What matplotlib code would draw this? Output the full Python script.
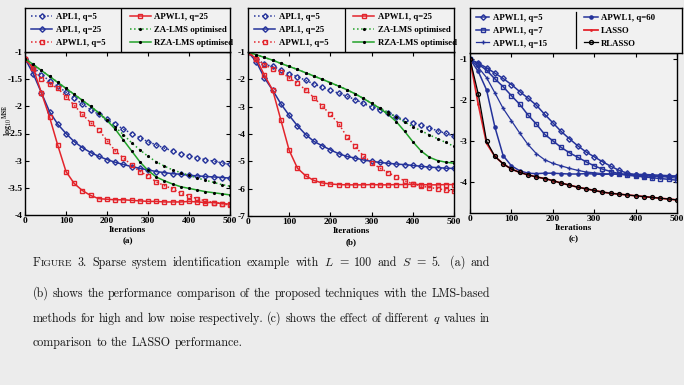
import matplotlib
matplotlib.use("Agg")
import matplotlib.pyplot as plt

plt.rcParams["font.family"] = ["Liberation Serif", "DejaVu Serif"]
plt.rcParams["mathtext.fontset"] = "cm"
plt.rcParams["axes.unicode_minus"] = False

iters = list(range(0, 501, 20))

# panel (a) - high noise
a_apl1_q5 = [-1.12, -1.27, -1.42, -1.53, -1.63, -1.74, -1.85, -1.96, -2.06, -2.15, -2.24, -2.33, -2.42,
             -2.50, -2.58, -2.65, -2.71, -2.77, -2.82, -2.87, -2.91, -2.95, -2.98, -3.01, -3.04, -3.07]
a_apl1_q25 = [-1.12, -1.40, -1.75, -2.10, -2.33, -2.50, -2.65, -2.76, -2.85, -2.92, -2.98, -3.03, -3.07,
              -3.11, -3.14, -3.17, -3.20, -3.22, -3.24, -3.25, -3.27, -3.28, -3.29, -3.30, -3.31, -3.32]
a_apwl1_q5 = [-1.12, -1.30, -1.50, -1.59, -1.67, -1.82, -1.98, -2.15, -2.30, -2.43, -2.63, -2.82, -2.95,
              -3.08, -3.20, -3.28, -3.39, -3.46, -3.52, -3.60, -3.65, -3.70, -3.74, -3.77, -3.79, -3.82]
a_apwl1_q25 = [-1.12, -1.30, -1.75, -2.20, -2.72, -3.20, -3.42, -3.55, -3.64, -3.70, -3.71, -3.72, -3.72,
               -3.73, -3.74, -3.75, -3.75, -3.76, -3.76, -3.76, -3.75, -3.76, -3.77, -3.77, -3.79, -3.80]
a_za = [-1.12, -1.23, -1.34, -1.45, -1.56, -1.67, -1.78, -1.89, -2.00, -2.12, -2.25, -2.38, -2.52,
        -2.67, -2.80, -2.92, -3.02, -3.10, -3.17, -3.22, -3.27, -3.32, -3.36, -3.40, -3.44, -3.47]
a_rza = [-1.12, -1.23, -1.34, -1.45, -1.56, -1.67, -1.78, -1.89, -2.00, -2.12, -2.26, -2.42, -2.62,
         -2.82, -3.02, -3.18, -3.30, -3.37, -3.43, -3.48, -3.51, -3.54, -3.57, -3.59, -3.61, -3.63]

# panel (b) - low noise
b_apl1_q5 = [-1.00, -1.25, -1.45, -1.53, -1.65, -1.80, -1.90, -2.04, -2.17, -2.29, -2.40, -2.51, -2.62,
             -2.74, -2.88, -3.02, -3.11, -3.24, -3.37, -3.49, -3.59, -3.68, -3.78, -3.88, -3.98, -4.08]
b_apl1_q25 = [-1.00, -1.35, -1.95, -2.40, -2.90, -3.32, -3.70, -4.02, -4.27, -4.43, -4.58, -4.72, -4.82,
              -4.88, -4.95, -5.00, -5.04, -5.07, -5.10, -5.12, -5.15, -5.18, -5.21, -5.23, -5.25, -5.26]
b_apwl1_q5 = [-1.00, -1.25, -1.47, -1.62, -1.73, -1.95, -2.15, -2.38, -2.67, -2.98, -3.28, -3.62, -4.10,
              -4.45, -4.80, -5.05, -5.25, -5.41, -5.57, -5.71, -5.82, -5.90, -5.96, -6.00, -6.05, -6.09]
b_apwl1_q25 = [-1.00, -1.25, -1.85, -2.40, -3.50, -4.60, -5.25, -5.53, -5.70, -5.79, -5.83, -5.85, -5.86,
               -5.86, -5.86, -5.85, -5.86, -5.86, -5.85, -5.85, -5.84, -5.85, -5.86, -5.86, -5.85, -5.85]
b_za = [-1.00, -1.10, -1.20, -1.30, -1.42, -1.53, -1.64, -1.76, -1.88, -2.00, -2.12, -2.25, -2.38,
        -2.53, -2.70, -2.88, -3.05, -3.20, -3.38, -3.56, -3.73, -3.88, -4.03, -4.17, -4.31, -4.45]
b_rza = [-1.00, -1.10, -1.20, -1.30, -1.42, -1.53, -1.64, -1.76, -1.88, -2.00, -2.12, -2.25, -2.38,
         -2.53, -2.70, -2.88, -3.06, -3.28, -3.55, -3.90, -4.28, -4.62, -4.85, -4.97, -5.03, -5.07]

# panel (c) - effect of q
c_q5 = [-1.00, -1.10, -1.21, -1.34, -1.47, -1.62, -1.79, -1.95, -2.12, -2.34, -2.55, -2.76, -2.94,
        -3.11, -3.26, -3.38, -3.50, -3.61, -3.71, -3.78, -3.82, -3.84, -3.85, -3.85, -3.85, -3.85]
c_q7 = [-1.00, -1.12, -1.27, -1.48, -1.67, -1.89, -2.10, -2.36, -2.58, -2.83, -2.99, -3.15, -3.28,
        -3.39, -3.50, -3.60, -3.68, -3.74, -3.79, -3.83, -3.85, -3.87, -3.89, -3.91, -3.93, -3.95]
c_q15 = [-1.00, -1.20, -1.45, -1.82, -2.20, -2.50, -2.80, -3.08, -3.30, -3.45, -3.54, -3.60, -3.66,
         -3.71, -3.75, -3.77, -3.79, -3.80, -3.81, -3.82, -3.83, -3.84, -3.85, -3.86, -3.88, -3.90]
c_q60 = [-1.00, -1.30, -1.75, -2.65, -3.35, -3.60, -3.72, -3.78, -3.79, -3.78, -3.78, -3.79, -3.80,
         -3.80, -3.79, -3.80, -3.81, -3.80, -3.80, -3.80, -3.81, -3.81, -3.82, -3.83, -3.84, -3.86]
c_lasso = [-1.00, -2.10, -3.05, -3.37, -3.55, -3.68, -3.76, -3.82, -3.87, -3.91, -3.96, -4.02, -4.07,
           -4.12, -4.16, -4.20, -4.24, -4.27, -4.29, -4.31, -4.33, -4.35, -4.37, -4.39, -4.41, -4.43]
c_rlasso = [-1.00, -1.85, -3.00, -3.37, -3.55, -3.68, -3.76, -3.82, -3.87, -3.91, -3.96, -4.02, -4.07,
            -4.12, -4.16, -4.20, -4.24, -4.27, -4.29, -4.31, -4.33, -4.35, -4.37, -4.39, -4.41, -4.43]

cap_lines = [
    ["FIGURE", "3.", "Sparse", "system", "identification", "example", "with", "$L$", "=", "100", "and",
     "$S$", "=", "5.", " (a)", "and"],
    ["(b)", "shows", "the", "performance", "comparison", "of", "the", "proposed", "techniques", "with",
     "the", "LMS-based"],
    ["methods", "for", "high", "and", "low", "noise", "respectively.", "(c)", "shows", "the", "effect",
     "of", "different", "$q$", "values", "in"],
    ["comparison", "to", "the", "LASSO", "performance."],
]

blue = "#25339a"
red = "#e3242b"
green = "#22a22a"
bg = "#ececec"
panel_bg = "#f1f1f1"

W, H = 684, 385
fig = plt.figure(figsize=(6.84, 3.85), dpi=100, facecolor=bg)


def box(x0, y0, x1, y1):
    # pixel box (top-left origin) -> figure rect
    return [x0 / W, 1 - y1 / H, (x1 - x0) / W, (y1 - y0) / H]


def style_axes(ax, lab):
    ax.set_facecolor(panel_bg)
    ax.set_xlim(0, 500)
    ax.set_xticks([0, 100, 200, 300, 400, 500])
    ax.tick_params(direction="in", top=True, right=True, length=3, width=0.8,
                   labelsize=6.8, pad=1.5)
    for t in ax.get_xticklabels() + ax.get_yticklabels():
        t.set_fontweight("bold")
    ax.set_xlabel("Iterations\n" + lab, fontsize=6.5, fontweight="bold", labelpad=1, linespacing=1.4)
    for s in ax.spines.values():
        s.set_linewidth(1.0)


def legend_box(rect, col1, col2, split, hl, full_sep=True):
    lax = fig.add_axes(rect)
    lax.set_facecolor(panel_bg)
    lax.set_xticks([])
    lax.set_yticks([])
    lax.set_xlim(0, 1)
    lax.set_ylim(0, 1)
    for s in lax.spines.values():
        s.set_linewidth(1.0)
    if full_sep:
        lax.plot([split, split], [0, 1], color="k", lw=0.9)
    else:
        lax.plot([split, split], [0.12, 0.9], color="k", lw=0.9)
    kw = dict(frameon=False, handlelength=hl, handletextpad=0.4, labelspacing=0.55,
              borderpad=0, borderaxespad=0, prop={"weight": "bold", "size": 6.3})
    l1 = lax.legend(handles=col1, loc="center left", bbox_to_anchor=(0.03, 0.5), **kw)
    lax.add_artist(l1)
    lax.legend(handles=col2, loc="center left", bbox_to_anchor=(split + 0.04, 0.5), **kw)


ms = 3.3
lw = 1.1

# ----- (a)
ax = fig.add_axes(box(25, 52, 230, 215))
h1, = ax.plot(iters, a_apl1_q5, ":", color=blue, lw=lw, marker="D", ms=2.8, mfc="none", mec=blue, label="APL1, q=5")
h2, = ax.plot(iters, a_apl1_q25, "-", color=blue, lw=lw, marker="D", ms=2.8, mfc="none", mec=blue, label="APL1, q=25")
h3, = ax.plot(iters, a_apwl1_q5, ":", color=red, lw=lw, marker="s", ms=ms, mfc="none", mec=red, label="APWL1, q=5")
h4, = ax.plot(iters, a_apwl1_q25, "-", color=red, lw=lw, marker="s", ms=ms, mfc="none", mec=red, label="APWL1, q=25")
h5, = ax.plot(iters, a_za, ":", color=green, lw=lw, marker=".", ms=2.5, mfc="k", mec="k", label="ZA-LMS optimised")
h6, = ax.plot(iters, a_rza, "-", color=green, lw=lw, marker=".", ms=2.5, mfc="k", mec="k", label="RZA-LMS optimised")
ax.set_ylim(-4, -1)
ax.set_yticks([-1, -1.5, -2, -2.5, -3, -3.5, -4])
ax.set_yticklabels(["-1", "-1.5", "-2", "-2.5", "-3", "-3.5", "-4"])
style_axes(ax, "(a)")
fig.text(7.5 / W, 1 - 120 / H, r"$\mathbf{log}_{\mathbf{10}}$$^{\mathbf{MSE}}$", fontsize=5.8,
         rotation=90, ha="center", va="center")
legend_box(box(25, 8, 230, 52), [h1, h2, h3], [h4, h5, h6], 0.47, 2.4)

# ----- (b)
ax = fig.add_axes(box(248, 52, 454, 216))
h1, = ax.plot(iters, b_apl1_q5, ":", color=blue, lw=lw, marker="D", ms=2.8, mfc="none", mec=blue, label="APL1, q=5")
h2, = ax.plot(iters, b_apl1_q25, "-", color=blue, lw=lw, marker="D", ms=2.8, mfc="none", mec=blue, label="APL1, q=25")
h3, = ax.plot(iters, b_apwl1_q5, ":", color=red, lw=lw, marker="s", ms=ms, mfc="none", mec=red, label="APWL1, q=5")
h4, = ax.plot(iters, b_apwl1_q25, "-", color=red, lw=lw, marker="s", ms=ms, mfc="none", mec=red, label="APWL1, q=25")
h5, = ax.plot(iters, b_za, ":", color=green, lw=lw, marker=".", ms=2.5, mfc="k", mec="k", label="ZA-LMS optimised")
h6, = ax.plot(iters, b_rza, "-", color=green, lw=lw, marker=".", ms=2.5, mfc="k", mec="k", label="RZA-LMS optimised")
ax.set_ylim(-7, -1)
ax.set_yticks([-1, -2, -3, -4, -5, -6, -7])
style_axes(ax, "(b)")
legend_box(box(248, 8, 454, 52), [h1, h2, h3], [h4, h5, h6], 0.47, 2.4)

# ----- (c)
ax = fig.add_axes(box(470, 53, 677, 213))
h1, = ax.plot(iters, c_q5, "-", color=blue, lw=lw, marker="D", ms=2.8, mfc="none", mec=blue, label="APWL1, q=5")
h2, = ax.plot(iters, c_q7, "-", color=blue, lw=lw, marker="s", ms=2.8, mfc="none", mec=blue, label="APWL1, q=7")
h3, = ax.plot(iters, c_q15, "-", color=blue, lw=0.9, marker="+", ms=3.2, mec=blue, label="APWL1, q=15")
h4, = ax.plot(iters, c_q60, "-", color=blue, lw=lw, marker="o", ms=2.3, mfc=blue, mec=blue, label="APWL1, q=60")
h5, = ax.plot(iters, c_lasso, "-", color=red, lw=1.3, marker=".", ms=2, mfc=red, mec=red, label="LASSO")
h6, = ax.plot(iters, c_rlasso, "-", color="k", lw=0.9, marker="o", ms=2.8, mfc="none", mec="k", label="RLASSO")
ax.set_ylim(-4.75, -0.85)
ax.set_yticks([-1, -2, -3, -4])
style_axes(ax, "(c)")
legend_box(box(470, 8, 682, 53), [h1, h2, h3], [h4, h5, h6], 0.5, 1.5, full_sep=False)

# ----- caption, justified lines in Computer Modern
cap_y = [266, 297, 322, 346]
cap_x0, cap_x1 = 33, 490
cap_font = "cmr10"
renderer = fig.canvas.get_renderer()


def make_words(words, yy, size):
    objs = []
    for w in words:
        kw = dict(va="baseline", color="#151515", family=cap_font)
        if w == "FIGURE":
            t1 = fig.text(0, 1 - yy / H, "F", fontsize=size, **kw)
            t2 = fig.text(0, 1 - yy / H, "IGURE", fontsize=size * 0.8, **kw)
            objs.append([t1, t2])
        else:
            objs.append([fig.text(0, 1 - yy / H, w, fontsize=size, **kw)])
    return objs


# measure at a base size, then pick the size that lets the tightest line fit
base = 10.0
need = 0
for words in cap_lines[:-1]:
    objs = make_words(words, 0, base)
    tot = sum(p.get_window_extent(renderer).width for parts in objs for p in parts)
    tot += (len(objs) - 1) * base * 0.3 * 100 / 72
    need = max(need, tot)
    for parts in objs:
        for p in parts:
            p.remove()
cap_size = base * (cap_x1 - cap_x0) / need

for li, (words, yy) in enumerate(zip(cap_lines, cap_y)):
    objs = make_words(words, yy, cap_size)
    widths = [[p.get_window_extent(renderer).width for p in parts] for parts in objs]
    total = sum(sum(w) for w in widths)
    space = cap_size * 0.33 * 100 / 72
    if li < len(cap_lines) - 1:
        space = (cap_x1 - cap_x0 - total) / (len(objs) - 1)
    x = cap_x0
    for parts, ws in zip(objs, widths):
        for p, wpx in zip(parts, ws):
            p.set_x(x / W)
            x += wpx
        x += space

fig.savefig("out.png", dpi=100, facecolor=bg)
